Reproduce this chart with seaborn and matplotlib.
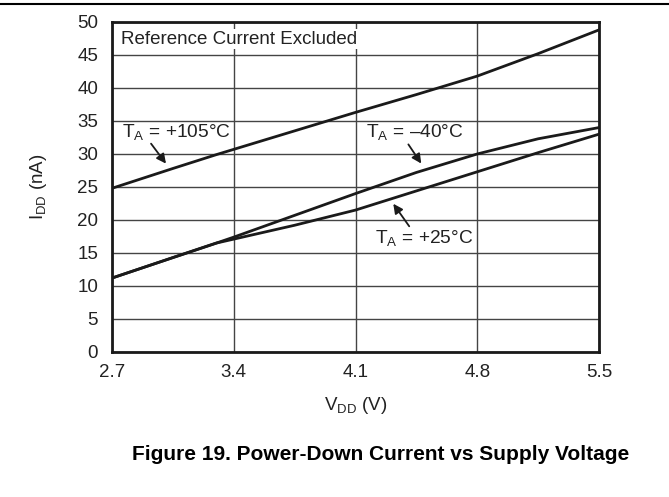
import numpy as np
import pandas as pd
import matplotlib
matplotlib.use("Agg")
import matplotlib.pyplot as plt
from matplotlib.lines import Line2D
import seaborn as sns

# data
vdd = [2.7, 3.05, 3.3, 3.4, 3.75, 4.1, 4.45, 4.8, 5.15, 5.5]
idd_105 = [24.8, 27.8, 29.9, 30.7, 33.5, 36.3, 39.0, 41.8, 45.2, 48.8]
idd_m40 = [11.2, 14.3, 16.5, 17.4, 20.7, 24.0, 27.2, 30.0, 32.3, 34.0]
idd_25 = [11.2, 14.3, 16.5, 17.1, 19.2, 21.5, 24.4, 27.3, 30.2, 33.0]
x_ticks = [2.7, 3.4, 4.1, 4.8, 5.5]
y_ticks = [0, 5, 10, 15, 20, 25, 30, 35, 40, 45, 50]

df = pd.DataFrame({
    "vdd": vdd * 3,
    "idd": idd_105 + idd_m40 + idd_25,
    "temp": ["+105"] * len(vdd) + ["-40"] * len(vdd) + ["+25"] * len(vdd),
})

sns.set_style("white")
plt.rcParams["font.family"] = ["Liberation Sans", "DejaVu Sans"]
plt.rcParams["mathtext.fontset"] = "custom"
plt.rcParams["mathtext.rm"] = "Liberation Sans"
plt.rcParams["mathtext.it"] = "Liberation Sans:italic"

fs = 13.5
txt = "#222222"

fig = plt.figure(figsize=(6.69, 4.97), dpi=100)
ax = fig.add_axes([0.1674, 0.2918, 0.728, 0.664])

sns.lineplot(data=df, x="vdd", y="idd", hue="temp", palette=["#1a1a1a"] * 3,
             linewidth=2, legend=False, ax=ax, estimator=None, sort=False)

ax.set_xlim(2.7, 5.5)
ax.set_ylim(0, 50)
ax.set_xticks(x_ticks)
ax.set_yticks(y_ticks)
ax.set_xticklabels([f"{t:.1f}" for t in x_ticks], fontsize=fs, color=txt)
ax.set_yticklabels([str(t) for t in y_ticks], fontsize=fs, color=txt)
ax.tick_params(axis="x", length=0, pad=9)
ax.tick_params(axis="y", length=0, pad=10)
ax.grid(True, color="#444444", linewidth=1)
for s in ax.spines.values():
    s.set_visible(True)
    s.set_linewidth(2)
    s.set_color("#1a1a1a")

ax.set_xlabel(r"V$_\mathrm{DD}$ (V)", fontsize=fs, color=txt, labelpad=10)
ax.set_ylabel(r"I$_\mathrm{DD}$ (nA)", fontsize=fs, color=txt, labelpad=20)

box = dict(facecolor="white", edgecolor="none", pad=1)
ax.text(2.75, 47.4, "Reference Current Excluded", fontsize=fs, va="center",
        color=txt, bbox=box)

lab = 13.8
ax.text(2.755, 33.4, r"T$_\mathrm{A}$ = +105°C", fontsize=lab, va="center", color=txt)
ax.annotate("", xy=(3.02, 28.2), xytext=(2.915, 31.9),
            arrowprops=dict(arrowstyle="-|>", color="#1a1a1a", lw=1.3, mutation_scale=14))

ax.text(4.16, 33.3, r"T$_\mathrm{A}$ = –40°C", fontsize=lab, va="center", color=txt)
ax.annotate("", xy=(4.487, 28.2), xytext=(4.395, 31.8),
            arrowprops=dict(arrowstyle="-|>", color="#1a1a1a", lw=1.3, mutation_scale=14))

ax.text(4.21, 17.2, r"T$_\mathrm{A}$ = +25°C", fontsize=lab, va="center", color=txt)
ax.annotate("", xy=(4.308, 22.8), xytext=(4.418, 18.7),
            arrowprops=dict(arrowstyle="-|>", color="#1a1a1a", lw=1.3, mutation_scale=14))

fig.add_artist(Line2D([0, 1], [0.991, 0.991], transform=fig.transFigure,
                      color="black", linewidth=1.5))
fig.text(0.569, 0.085, "Figure 19. Power-Down Current vs Supply Voltage",
         ha="center", va="center", fontsize=15, fontweight="bold", color="black")

fig.savefig("out.png", dpi=100)
